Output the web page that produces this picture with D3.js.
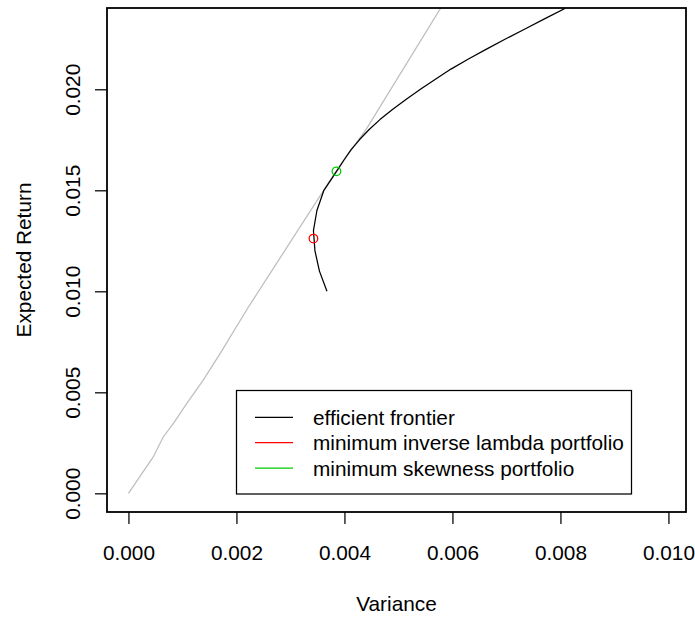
<!DOCTYPE html>
<html>
<head>
<meta charset="utf-8">
<script src="https://cdn.jsdelivr.net/npm/d3@7"></script>
<style>
  html, body { margin: 0; padding: 0; background: #ffffff; }
  svg { display: block; font-family: "Liberation Sans", Arial, sans-serif; }
</style>
</head>
<body>
<svg id="chart" width="695" height="618"></svg>
<script>
// ---- data ----
const frontierReturn = [0.010, 0.011, 0.012, 0.013, 0.014, 0.015, 0.016, 0.0165, 0.017, 0.0175, 0.018, 0.0185, 0.019, 0.0195, 0.020, 0.0205, 0.021, 0.0215, 0.022, 0.0225, 0.023, 0.0235, 0.024];
const frontierVariance = [0.003676, 0.003537, 0.003454, 0.003426, 0.003490, 0.003620, 0.003870, 0.003991, 0.004120, 0.004277, 0.004453, 0.004657, 0.004889, 0.005139, 0.005407, 0.005685, 0.005972, 0.006296, 0.006639, 0.006990, 0.007352, 0.007713, 0.008083];

const lineVariance = [0, 0.000459, 0.000644, 0.000830, 0.001078, 0.001385, 0.001694, 0.002219, 0.003856, 0.004411, 0.005800];
const lineReturn   = [0, 0.00180, 0.00279, 0.00345, 0.00444, 0.00560, 0.00690, 0.00921, 0.01600, 0.01805, 0.02410];

const portfolioNames = ["minimum inverse lambda portfolio", "minimum skewness portfolio"];
const portfolioVariance = [0.003426, 0.003852];
const portfolioReturn = [0.01261, 0.01594];
const portfolioColors = ["#FF0000", "#00CD00"];

const legendLabels = ["efficient frontier", "minimum inverse lambda portfolio", "minimum skewness portfolio"];
const legendColors = ["#000000", "#FF0000", "#00CD00"];

const xTicks = [0, 0.002, 0.004, 0.006, 0.008, 0.010];
const yTicks = [0, 0.005, 0.010, 0.015, 0.020];
const xLimits = [0, 0.009928];
const yLimits = [0, 0.0231];

// ---- layout ----
const svg = d3.select("#chart");
const plot = { left: 107, right: 686, top: 8, bottom: 512 };
const fontSize = 20.8;

function expand(lim) { const d = (lim[1] - lim[0]) * 0.04; return [lim[0] - d, lim[1] + d]; }
const x = d3.scaleLinear().domain(expand(xLimits)).range([plot.left, plot.right]);
const y = d3.scaleLinear().domain(expand(yLimits)).range([plot.bottom, plot.top]);

svg.append("defs").append("clipPath").attr("id", "clip")
  .append("rect").attr("x", plot.left).attr("y", plot.top)
  .attr("width", plot.right - plot.left).attr("height", plot.bottom - plot.top);

const g = svg.append("g").attr("clip-path", "url(#clip)");

// gray line
const lineData = lineVariance.map((v, i) => [v, lineReturn[i]]);
const lineGen = d3.line().x(d => x(d[0])).y(d => y(d[1]));
g.append("path").datum(lineData).attr("d", lineGen)
  .attr("fill", "none").attr("stroke", "#BEBEBE").attr("stroke-width", 1.25);

// efficient frontier
const frontierData = frontierVariance.map((v, i) => [v, frontierReturn[i]]);
g.append("path").datum(frontierData).attr("d", lineGen)
  .attr("fill", "none").attr("stroke", "#000000").attr("stroke-width", 1.25)
  .attr("stroke-linejoin", "round");

// portfolios
g.selectAll("circle.pf").data(portfolioNames).enter().append("circle")
  .attr("class", "pf")
  .attr("cx", (d, i) => x(portfolioVariance[i]))
  .attr("cy", (d, i) => y(portfolioReturn[i]))
  .attr("r", 4.3)
  .attr("fill", "none")
  .attr("stroke", (d, i) => portfolioColors[i])
  .attr("stroke-width", 1.25);

// box
svg.append("rect").attr("x", plot.left).attr("y", plot.top)
  .attr("width", plot.right - plot.left).attr("height", plot.bottom - plot.top)
  .attr("fill", "none").attr("stroke", "#000").attr("stroke-width", 1.8);

// x axis
const xAxis = d3.axisBottom(x).tickValues(xTicks).tickSize(12).tickPadding(0)
  .tickFormat(d3.format(".3f"));
const gx = svg.append("g").attr("transform", `translate(0,${plot.bottom})`).call(xAxis);
gx.select(".domain").remove();
gx.selectAll(".tick line").attr("stroke", "#000").attr("stroke-width", 1.25);
gx.selectAll(".tick text").attr("font-size", fontSize).attr("fill", "#000")
  .attr("font-family", "Liberation Sans, Arial, sans-serif")
  .attr("y", 48).attr("dy", null).attr("dominant-baseline", "alphabetic");

// y axis
const yAxis = d3.axisLeft(y).tickValues(yTicks).tickSize(12).tickPadding(0)
  .tickFormat(d3.format(".3f"));
const gy = svg.append("g").attr("transform", `translate(${plot.left},0)`).call(yAxis);
gy.select(".domain").remove();
gy.selectAll(".tick line").attr("stroke", "#000").attr("stroke-width", 1.25);
gy.selectAll(".tick text").attr("font-size", fontSize).attr("fill", "#000")
  .attr("font-family", "Liberation Sans, Arial, sans-serif")
  .attr("x", null).attr("dy", null)
  .attr("text-anchor", "middle")
  .attr("transform", "translate(-27,0) rotate(-90)");

// axis titles
svg.append("text").attr("x", (plot.left + plot.right) / 2).attr("y", 611)
  .attr("text-anchor", "middle").attr("font-size", fontSize).attr("fill", "#000")
  .text("Variance");
svg.append("text")
  .attr("transform", `translate(31,${(plot.top + plot.bottom) / 2}) rotate(-90)`)
  .attr("text-anchor", "middle").attr("font-size", fontSize).attr("fill", "#000")
  .text("Expected Return");

// legend
const legend = svg.append("g");
legend.append("rect").attr("x", 236.5).attr("y", 390.5).attr("width", 395).attr("height", 103.5)
  .attr("fill", "#fff").attr("stroke", "#000").attr("stroke-width", 1.25);
const rowY = [417.3, 442.7, 468.2];
legend.selectAll("line.lg").data(legendLabels).enter().append("line")
  .attr("x1", 255).attr("x2", 293)
  .attr("y1", (d, i) => rowY[i]).attr("y2", (d, i) => rowY[i])
  .attr("stroke", (d, i) => legendColors[i]).attr("stroke-width", 1.25);
legend.selectAll("text.lg").data(legendLabels).enter().append("text")
  .attr("x", 313).attr("y", (d, i) => rowY[i] + 7.4)
  .attr("font-size", fontSize).attr("fill", "#000")
  .text(d => d);
</script>
</body>
</html>
